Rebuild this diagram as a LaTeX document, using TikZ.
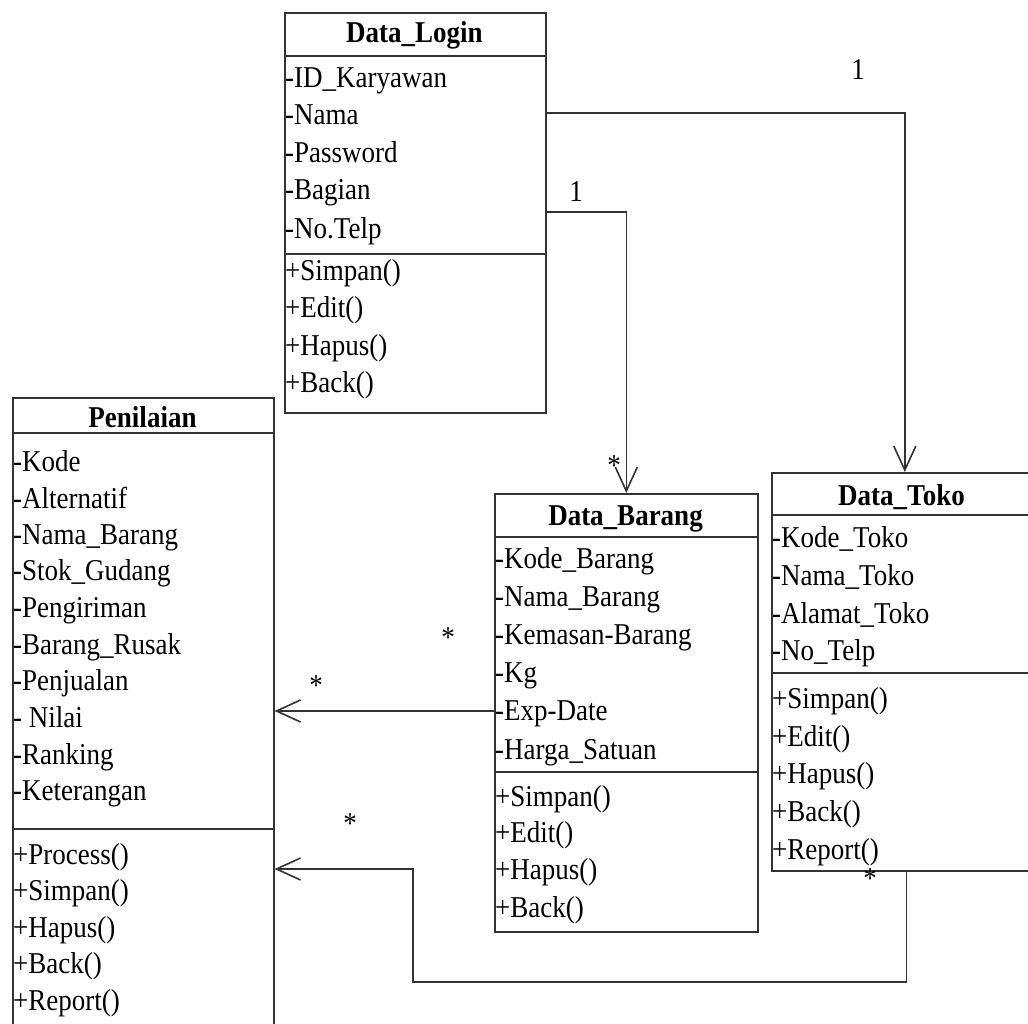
\documentclass[tikz,border=0pt]{standalone}
\usepackage{fontspec}
\setmainfont{Liberation Serif}
\usetikzlibrary{arrows.meta}
\definecolor{ink}{gray}{0.2}
\begin{document}
\begin{tikzpicture}[x=1pt,y=-1pt,
  box/.style={draw=ink,line width=1.6pt,fill=white,anchor=north west,inner sep=0pt,minimum width=261pt},
  sep/.style={draw=ink,line width=1.6pt},
  txt/.style={anchor=base west,inner sep=0pt,font=\fontsize{27}{30}\selectfont,yscale=1.12},
  ttl/.style={anchor=base,inner sep=0pt,font=\fontsize{27}{30}\selectfont\bfseries,yscale=1.12},
  mult/.style={anchor=base,inner sep=0pt,font=\fontsize{27}{30}\selectfont,yscale=1.12},
  assoc/.style={draw=ink,line width=1.6pt,-{Straight Barb[length=24pt,width=22pt,line width=1.6pt]}},
]
\useasboundingbox (0,0) rectangle (1028,1024);
\fill[white] (0,0) rectangle (1028,1024);

% class boxes
\node[box,minimum height=400pt] (login) at (284,12) {};
\node[box,minimum height=633pt] (pen) at (12,397) {};
\node[box,minimum width=263pt,minimum height=438pt] (barang) at (494,493) {};
\node[box,minimum height=398pt] (toko) at (771,472) {};

% compartment separators
\draw[sep] (login.west |- 0,56) -- (login.east |- 0,56);
\draw[sep] (login.west |- 0,254) -- (login.east |- 0,254);
\draw[sep] (pen.west |- 0,433) -- (pen.east |- 0,433);
\draw[sep] (pen.west |- 0,829) -- (pen.east |- 0,829);
\draw[sep] (barang.west |- 0,537) -- (barang.east |- 0,537);
\draw[sep] (barang.west |- 0,772) -- (barang.east |- 0,772);
\draw[sep] (toko.west |- 0,515) -- (toko.east |- 0,515);
\draw[sep] (toko.west |- 0,673) -- (toko.east |- 0,673);

% class names
\node[ttl] (login-t) at (414.5,43) {Data\_Login};
\node[ttl] (pen-t) at (142.5,427) {Penilaian};
\node[ttl] (barang-t) at (625.5,525) {Data\_Barang};
\node[ttl] (toko-t) at (901.5,505) {Data\_Toko};

% Data_Login members
\foreach \yy/\tt [count=\i] in {88/{-ID\_Karyawan},125/{-Nama},163/{-Password},200/{-Bagian},239/{-No.Telp},
  281/{+Simpan()},318/{+Edit()},355/{+Hapus()},392/{+Back()}}
  \node[txt] (login-m\i) at (285,\yy) {\tt};

% Penilaian members
\foreach \yy/\tt [count=\i] in {471/{-Kode},508/{-Alternatif},544/{-Nama\_Barang},580/{-Stok\_Gudang},
  617/{-Pengiriman},654/{-Barang\_Rusak},690/{-Penjualan},727/{- Nilai},764/{-Ranking},800/{-Keterangan},
  864/{+Process()},900/{+Simpan()},937/{+Hapus()},973/{+Back()},1010/{+Report()}}
  \node[txt] (pen-m\i) at (13,\yy) {\tt};

% Data_Barang members
\foreach \yy/\tt [count=\i] in {568/{-Kode\_Barang},606/{-Nama\_Barang},644/{-Kemasan-Barang},682/{-Kg},
  720/{-Exp-Date},759/{-Harga\_Satuan},806/{+Simpan()},842/{+Edit()},879/{+Hapus()},917/{+Back()}}
  \node[txt] (barang-m\i) at (495,\yy) {\tt};

% Data_Toko members
\foreach \yy/\tt [count=\i] in {547/{-Kode\_Toko},585/{-Nama\_Toko},623/{-Alamat\_Toko},660/{-No\_Telp},
  708/{+Simpan()},746/{+Edit()},783/{+Hapus()},821/{+Back()},859/{+Report()}}
  \node[txt] (toko-m\i) at (772,\yy) {\tt};

% associations
\coordinate (loop) at (413,982);
\draw[assoc] (login.east |- 0,113) -| ([xshift=2.5pt]toko.north);
\draw[assoc] (login.east |- 0,212) -| (barang.north);
\draw[assoc] (barang.west |- 0,711) -- (pen.east |- 0,711);
\draw[assoc] ([xshift=4pt]toko.south) |- (loop) |- (pen.east |- 0,869);

% multiplicities
\node[mult] (m1) at (858,80) {1};
\node[mult] (m2) at (576,202) {1};
\node[mult] (m3) at (614,475) {*};
\node[mult] (m4) at (448,647) {*};
\node[mult] (m5) at (316,695) {*};
\node[mult] (m6) at (350,833) {*};
\node[mult] (m7) at (870,888) {*};
\end{tikzpicture}
\end{document}
